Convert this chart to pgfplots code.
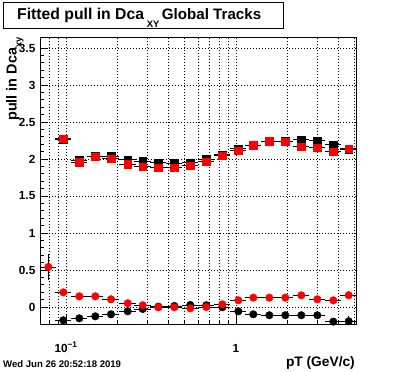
\documentclass[border=0pt]{standalone}
\usepackage{fontspec}
\setmainfont{Liberation Sans}
\usepackage{pgfplots}
\pgfplotsset{compat=1.18}
\begin{document}
\begin{tikzpicture}
\path[use as bounding box] (0,0) rectangle (396bp,372bp);
\begin{axis}[
  at={(40bp,48bp)}, anchor=south west,
  scale only axis, width=316bp, height=287bp,
  xmode=log, xmin=0.0703, xmax=5.08,
  ymin=-0.23, ymax=3.649,
  xtick={0.1,1}, xticklabels={10\textsuperscript{−1},1},
  minor xtick={0.08,0.09,0.2,0.3,0.4,0.5,0.6,0.7,0.8,0.9,2,3,4,5},
  ytick={0,0.5,1,1.5,2,2.5,3,3.5},
  yticklabels={0,0.5,1,1.5,2,2.5,3,3.5},
  minor y tick num=4,
  tick align=inside, xtick pos=bottom, ytick pos=left,
  major tick length=8.5bp, minor tick length=4.3bp,
  every tick/.style={black, line width=0.8bp},
  axis line style={black, line width=0.8bp},
  xmajorgrids, xminorgrids, ymajorgrids,
  major grid style={black, line width=0.7bp, dash pattern=on 0.8bp off 2.2bp},
  minor grid style={black, line width=0.7bp, dash pattern=on 0.8bp off 2.2bp},
  tick label style={font=\bfseries\fontsize{11.8}{12}\selectfont},
  y tick label style={anchor=east, inner sep=0pt, xshift=-4.5bp},
  x tick label style={anchor=base, inner sep=0pt, yshift=-28bp},
  error bars/error bar style={black, line width=0.8bp},
]
% black squares
\addplot[only marks, mark=square*, mark size=3.8bp, mark options={fill=black, draw=black},
  error bars/.cd, x dir=both, x fixed relative=0.112, y dir=both, y explicit, error mark=none]
  table[x=x, y=y, y error=ey]{
x y ey
0.0964 2.270 0.02
0.1197 1.985 0.02
0.1487 2.035 0.02
0.1839 2.040 0.02
0.2306 1.990 0.02
0.2826 1.968 0.02
0.3490 1.950 0.02
0.4336 1.940 0.02
0.5385 1.950 0.02
0.6688 1.996 0.02
0.8306 2.060 0.02
1.0317 2.140 0.02
1.2642 2.190 0.02
1.5703 2.240 0.02
1.9498 2.240 0.02
2.4222 2.261 0.02
3.0082 2.247 0.02
3.7358 2.193 0.02
4.6019 2.135 0.04
};
% red squares
\addplot[only marks, mark=square*, mark size=3.8bp, mark options={fill=red, draw=red},
  error bars/.cd, x dir=both, x fixed relative=0.112, y dir=both, y explicit, error mark=none]
  table[x=x, y=y, y error=ey]{
x y ey
0.0964 2.274 0.02
0.1197 1.960 0.02
0.1487 2.030 0.02
0.1839 2.004 0.02
0.2306 1.930 0.02
0.2826 1.896 0.02
0.3490 1.883 0.02
0.4336 1.883 0.02
0.5385 1.910 0.02
0.6688 1.964 0.02
0.8306 2.045 0.02
1.0317 2.110 0.02
1.2642 2.190 0.02
1.5703 2.243 0.02
1.9498 2.234 0.02
2.4222 2.166 0.02
3.0082 2.153 0.02
3.7358 2.099 0.02
4.6019 2.139 0.055
};
% black circles
\addplot[only marks, mark=*, mark size=3.8bp, mark options={fill=black, draw=black},
  error bars/.cd, x dir=both, x fixed relative=0.112, y dir=both, y explicit, error mark=none]
  table[x=x, y=y, y error=ey]{
x y ey
0.0964 -0.180 0.02
0.1197 -0.153 0.02
0.1487 -0.126 0.02
0.1839 -0.099 0.02
0.2306 -0.058 0.02
0.2826 -0.027 0.02
0.3490 0.005 0.02
0.4336 0.014 0.02
0.5385 0.027 0.02
0.6688 0.023 0.02
0.8306 -0.004 0.02
1.0317 -0.058 0.02
1.2642 -0.099 0.02
1.5703 -0.112 0.02
1.9498 -0.112 0.02
2.4222 -0.112 0.02
3.0082 -0.112 0.02
3.7358 -0.198 0.03
4.6019 -0.193 0.068
};
% red circles
\addplot[only marks, mark=*, mark size=3.8bp, mark options={fill=red, draw=red},
  error bars/.cd, x dir=both, x fixed relative=0.112, y dir=both, y explicit, error mark=none]
  table[x=x, y=y, y error=ey]{
x y ey
0.0787 0.540 0.18
0.0964 0.198 0.02
0.1197 0.144 0.02
0.1487 0.144 0.02
0.1839 0.104 0.02
0.2306 0.050 0.02
0.2826 0.023 0.02
0.3490 -0.004 0.02
0.4336 -0.004 0.02
0.5385 -0.018 0.02
0.6688 0.000 0.02
0.8306 0.036 0.02
1.0317 0.090 0.02
1.2642 0.126 0.02
1.5703 0.126 0.02
1.9498 0.126 0.02
2.4222 0.158 0.02
3.0082 0.104 0.02
3.7358 0.090 0.02
4.6019 0.158 0.052
};
\end{axis}
% title box
\draw[black, line width=0.8bp, fill=white] (3bp,344bp) rectangle (283bp,369.5bp);
\node[anchor=base west, inner sep=0pt, font=\bfseries\fontsize{15.8}{16}\selectfont] at (17bp,352.5bp) {Fitted pull in Dca};
\node[anchor=base west, inner sep=0pt, font=\bfseries\fontsize{9.5}{10}\selectfont] at (146.7bp,344bp) {XY};
\node[anchor=base west, inner sep=0pt, font=\bfseries\fontsize{15.2}{16}\selectfont] at (161.7bp,352.5bp) {Global Tracks};
% axis titles
\node[anchor=base east, inner sep=0pt, font=\bfseries\fontsize{13.8}{14}\selectfont] at (355bp,5.5bp) {pT (GeV/c)};
\node[rotate=90, anchor=base east, inner sep=0pt, font=\bfseries\fontsize{14.5}{15}\selectfont] at (16.5bp,335bp) {pull in Dca\raisebox{-5bp}{\fontsize{9.5}{10}\selectfont xy}};
% date
\node[anchor=base west, inner sep=0pt, font=\bfseries\fontsize{9.6}{10}\selectfont] at (3bp,5bp) {Wed Jun 26 20:52:18 2019};
\end{tikzpicture}
\end{document}
